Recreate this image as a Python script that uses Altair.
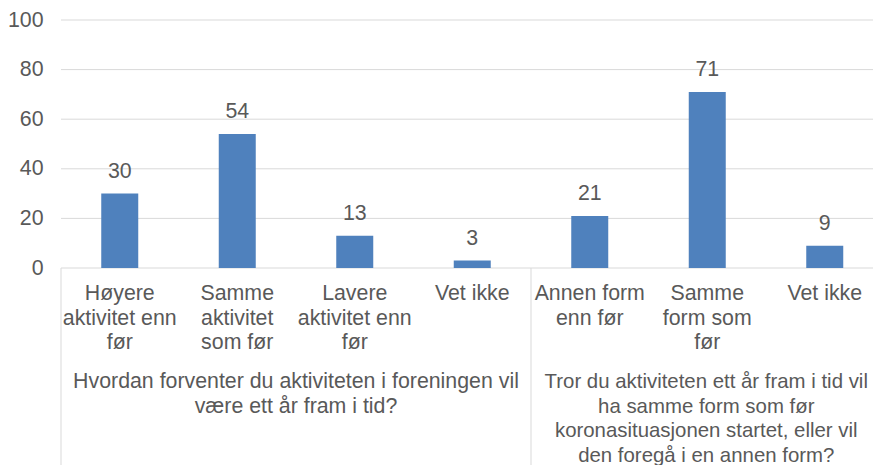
import altair as alt
import pandas as pd

# ---- data ----
categories = [
    "Høyere\naktivitet enn\nfør",
    "Samme\naktivitet\nsom før",
    "Lavere\naktivitet enn\nfør",
    "Vet ikke",
    "Annen form\nenn før",
    "Samme\nform som\nfør",
    "Vet ikke",
]
values = [30, 54, 13, 3, 21, 71, 9]
groups = [
    "Hvordan forventer du aktiviteten i foreningen vil\nvære ett år fram i tid?",
    "Tror du aktiviteten ett år fram i tid vil\nha samme form som før\nkoronasituasjonen startet, eller vil\nden foregå i en annen form?",
]
group_sizes = [4, 3]
y_ticks = [0, 20, 40, 60, 80, 100]

# ---- tables ----
df = pd.DataFrame({"idx": list(range(len(categories))), "label": categories, "value": values})

g_rows, b_rows = [], []
start = 0
b_rows.append({"b": start - 0.5})
for gi, (g, n) in enumerate(zip(groups, group_sizes)):
    g_rows.append({"gi": gi, "center": start + (n - 1) / 2, "group": g})
    start += n
    b_rows.append({"b": start - 0.5})
gdf = pd.DataFrame(g_rows)
bdf = pd.DataFrame(b_rows)
grid_df = pd.DataFrame({"tick": y_ticks,
                        "x0": [-0.5] * len(y_ticks),
                        "x1": [len(categories) - 0.4] * len(y_ticks)})

FONT = "Liberation Sans"
FS = 21.33
TXT = "#595959"
GRID = "#D9D9D9"

PLOT_W = 812          # visible plot width (fits the page)
STEP = 117.5          # pixels per category in the reference
x_max = -0.5 + PLOT_W / STEP

xscale = alt.Scale(domain=[-0.5, x_max], nice=False, zero=False, padding=0)
yscale = alt.Scale(domain=[0, 100], nice=False)
yaxis = alt.Axis(values=y_ticks, grid=False, domain=False, ticks=False,
                 labelFontSize=FS, labelColor=TXT, labelFont=FONT,
                 labelPadding=18, title=None)

bars = alt.Chart(df).mark_bar(size=37, color="#4F81BD").encode(
    x=alt.X("idx:Q", scale=xscale, axis=None),
    y=alt.Y("value:Q", scale=yscale, axis=yaxis),
)

grid = alt.Chart(grid_df).mark_rule(color=GRID, strokeWidth=1).encode(
    x=alt.X("x0:Q", scale=xscale, axis=None),
    x2="x1:Q",
    y=alt.Y("tick:Q", scale=yscale, axis=yaxis),
)

vlabels = alt.Chart(df).mark_text(
    dy=-16, baseline="alphabetic", fontSize=FS, color=TXT, font=FONT
).encode(
    x=alt.X("idx:Q", scale=xscale, axis=None),
    y=alt.Y("value:Q", scale=yscale, axis=yaxis),
    text=alt.Text("value:Q"),
)

clabels = alt.Chart(df).mark_text(
    lineBreak="\n", baseline="alphabetic", lineHeight=24.5, fontSize=FS, color=TXT, font=FONT
).encode(
    x=alt.X("idx:Q", scale=xscale, axis=None),
    y=alt.value(280),
    text="label:N",
)

glabels_left = alt.Chart(gdf).transform_filter("datum.gi == 0").mark_text(
    lineBreak="\n", baseline="alphabetic", lineHeight=24.7, fontSize=FS, color=TXT, font=FONT
).encode(
    x=alt.X("center:Q", scale=xscale, axis=None),
    y=alt.value(368),
    text="group:N",
)

glabels_right = alt.Chart(gdf).transform_filter("datum.gi == 1").mark_text(
    lineBreak="\n", baseline="alphabetic", lineHeight=24.7, fontSize=20.4, color=TXT, font=FONT,
    dx=-1
).encode(
    x=alt.X("center:Q", scale=xscale, axis=None),
    y=alt.value(368),
    text="group:N",
)

seps = alt.Chart(bdf).mark_rule(color=GRID, strokeWidth=1).encode(
    x=alt.X("b:Q", scale=xscale, axis=None),
    y=alt.value(248),
    y2=alt.value(460),
)

chart = alt.layer(grid, seps, bars, vlabels, clabels, glabels_left, glabels_right).properties(
    width=PLOT_W,
    height=248,
    autosize=alt.AutoSizeParams(type="none"),
    padding={"left": 53, "top": 12, "right": 0, "bottom": 197},
).configure_view(stroke=None)

chart.save("out.html", embed_options={"renderer": "svg", "actions": False})
